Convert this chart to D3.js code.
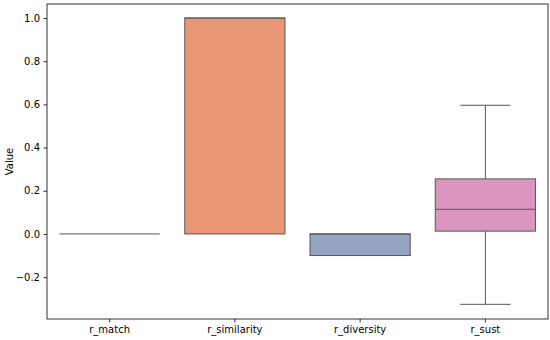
<!DOCTYPE html>
<html>
<head>
<meta charset="utf-8">
<script src="https://cdn.jsdelivr.net/npm/d3@7"></script>
<style>
  body { margin: 0; background: #fff; }
  text { font-family: "DejaVu Sans", sans-serif; }
</style>
</head>
<body>
<svg id="chart" width="550" height="340"></svg>
<script>
// box stats
var categories = ['r_match', 'r_similarity', 'r_diversity', 'r_sust'];
var q1 = [0, 0, -0.1, 0.013];
var median = [0, 1, 0, 0.114];
var q3 = [0, 1, 0, 0.255];
var whiskLow = [0, 0, -0.1, -0.326];
var whiskHigh = [0, 1, 0, 0.596];
var colors = ['#71b79d', '#e99675', '#95a3c3', '#db96c0'];
var yTicks = [-0.2, 0, 0.2, 0.4, 0.6, 0.8, 1.0];

var margin = { top: 4, right: 2, bottom: 21, left: 47 },
  width = 550 - margin.left - margin.right,
  height = 340 - margin.top - margin.bottom;

var svg = d3.select('#chart');
var g = svg.append('g').attr('transform', 'translate(' + margin.left + ',' + margin.top + ')');

var x = d3.scaleBand().domain(categories).range([0, width]).paddingInner(0).paddingOuter(0);
var y = d3.scaleLinear().domain([-0.394, 1.065]).range([height, 0]);

var lineColor = '#555';
var boxW = x.bandwidth() * 0.8;

var data = categories.map(function (c, i) {
  return { cat: c, q1: q1[i], med: median[i], q3: q3[i], lo: whiskLow[i], hi: whiskHigh[i], color: colors[i] };
});

var boxes = g.selectAll('.box').data(data).enter().append('g')
  .attr('transform', function (d) { return 'translate(' + (x(d.cat) + x.bandwidth() / 2) + ',0)'; });

// whiskers
boxes.filter(function (d) { return d.hi > d.q3; }).each(function (d) {
  var s = d3.select(this);
  s.append('line').attr('x1', 0).attr('x2', 0).attr('y1', y(d.q3)).attr('y2', y(d.hi)).attr('stroke', lineColor);
  s.append('line').attr('x1', -boxW / 4).attr('x2', boxW / 4).attr('y1', y(d.hi)).attr('y2', y(d.hi)).attr('stroke', lineColor);
});
boxes.filter(function (d) { return d.lo < d.q1; }).each(function (d) {
  var s = d3.select(this);
  s.append('line').attr('x1', 0).attr('x2', 0).attr('y1', y(d.q1)).attr('y2', y(d.lo)).attr('stroke', lineColor);
  s.append('line').attr('x1', -boxW / 4).attr('x2', boxW / 4).attr('y1', y(d.lo)).attr('y2', y(d.lo)).attr('stroke', lineColor);
});

boxes.append('rect')
  .attr('x', -boxW / 2)
  .attr('width', boxW)
  .attr('y', function (d) { return y(d.q3); })
  .attr('height', function (d) { return y(d.q1) - y(d.q3); })
  .attr('fill', function (d) { return d.color; })
  .attr('stroke', lineColor)
  .attr('stroke-width', 1);

boxes.append('line')
  .attr('x1', -boxW / 2).attr('x2', boxW / 2)
  .attr('y1', function (d) { return y(d.med); })
  .attr('y2', function (d) { return y(d.med); })
  .attr('stroke', lineColor);

// axes
var yAxis = g.append('g').call(d3.axisLeft(y).tickValues(yTicks).tickSize(3.5).tickPadding(3.5)
  .tickFormat(function (d) { return d3.format('.1f')(d).replace('-', '\u2212'); }));
var xAxis = g.append('g').attr('transform', 'translate(0,' + height + ')')
  .call(d3.axisBottom(x).tickSize(3.5).tickPadding(3.5));
[yAxis, xAxis].forEach(function (a) {
  a.select('.domain').remove();
  a.selectAll('text').attr('font-size', 10).attr('fill', '#000').attr('font-family', '"DejaVu Sans", sans-serif');
  a.selectAll('line').attr('stroke', '#000').attr('stroke-width', 0.8);
});

g.append('rect').attr('width', width).attr('height', height)
  .attr('fill', 'none').attr('stroke', '#000').attr('stroke-width', 0.8);

svg.append('text')
  .attr('transform', 'translate(13,' + (margin.top + height / 2) + ') rotate(-90)')
  .attr('text-anchor', 'middle')
  .attr('font-size', 10)
  .text('Value');
</script>
</body>
</html>
